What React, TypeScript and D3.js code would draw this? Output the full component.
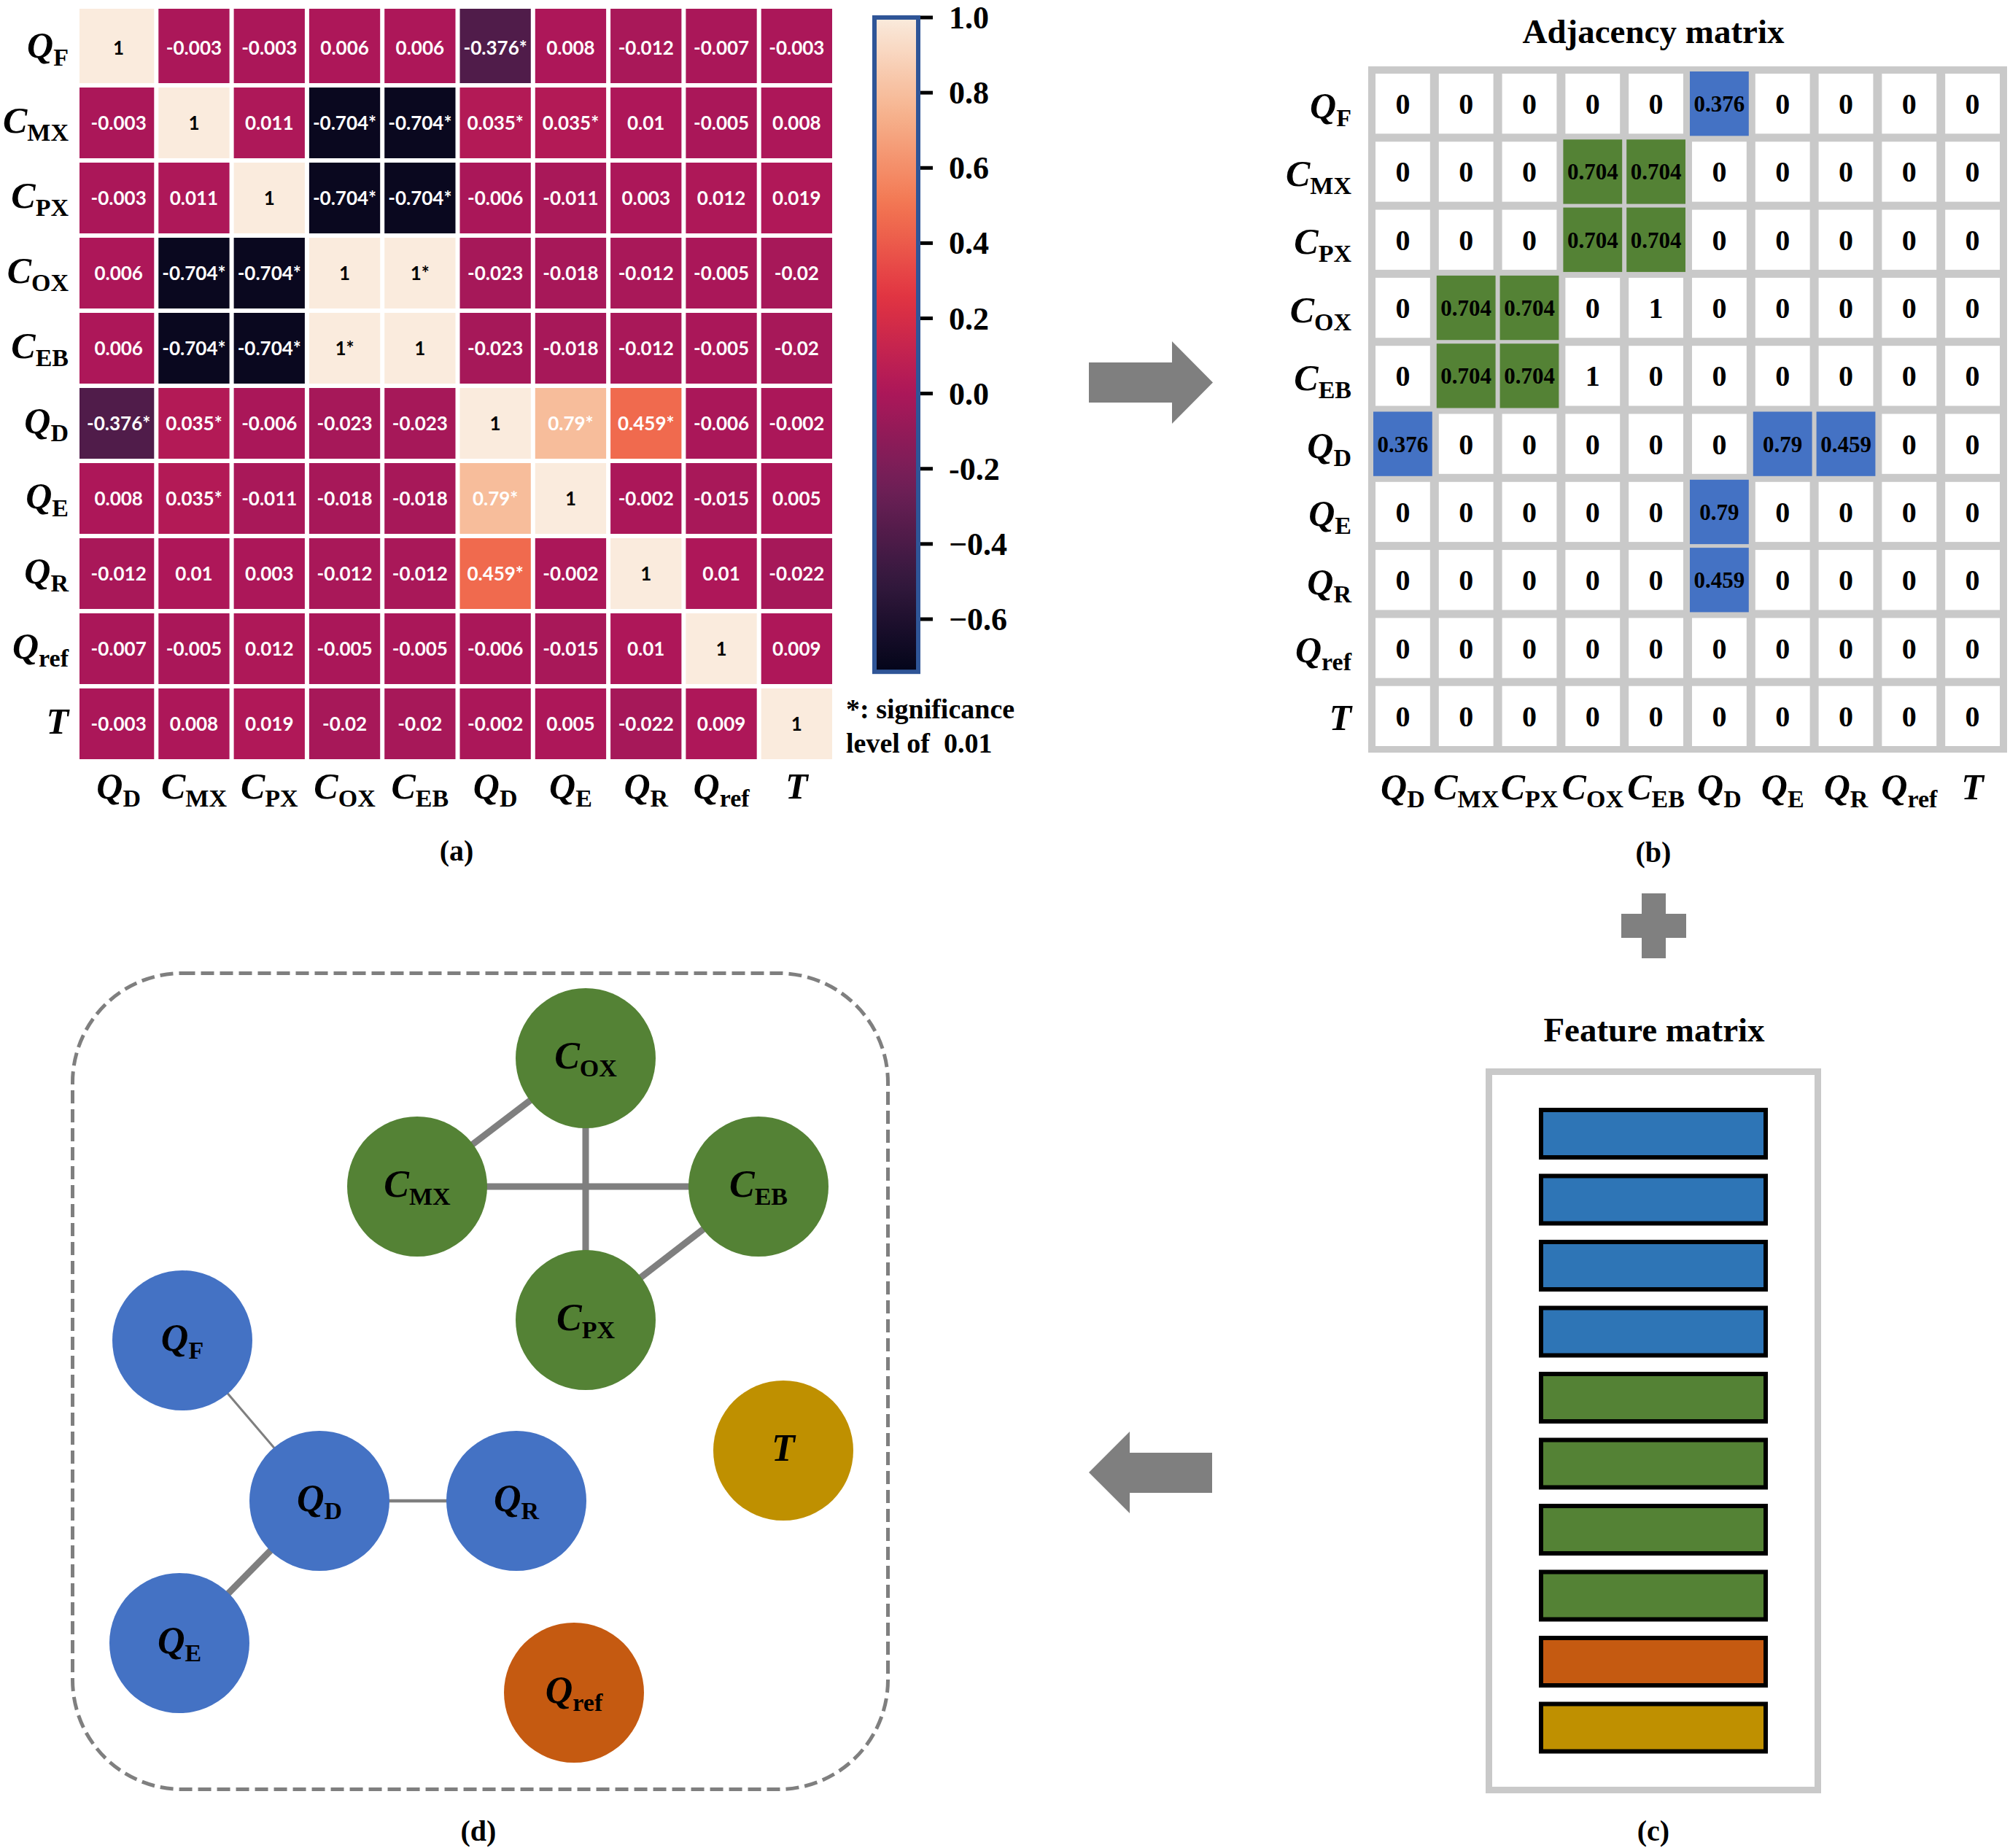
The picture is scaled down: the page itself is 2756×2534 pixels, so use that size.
import React from 'react';
import * as d3 from 'd3';

// ---------- DATA ----------
const rowLabels: [string, string][] = [
  ['Q', 'F'], ['C', 'MX'], ['C', 'PX'], ['C', 'OX'], ['C', 'EB'],
  ['Q', 'D'], ['Q', 'E'], ['Q', 'R'], ['Q', 'ref'], ['T', ''],
];
const colLabels: [string, string][] = [
  ['Q', 'D'], ['C', 'MX'], ['C', 'PX'], ['C', 'OX'], ['C', 'EB'],
  ['Q', 'D'], ['Q', 'E'], ['Q', 'R'], ['Q', 'ref'], ['T', ''],
];

const corrValues: number[][] = [
  [1, -0.003, -0.003, 0.006, 0.006, -0.376, 0.008, -0.012, -0.007, -0.003],
  [-0.003, 1, 0.011, -0.704, -0.704, 0.035, 0.035, 0.01, -0.005, 0.008],
  [-0.003, 0.011, 1, -0.704, -0.704, -0.006, -0.011, 0.003, 0.012, 0.019],
  [0.006, -0.704, -0.704, 1, 1, -0.023, -0.018, -0.012, -0.005, -0.02],
  [0.006, -0.704, -0.704, 1, 1, -0.023, -0.018, -0.012, -0.005, -0.02],
  [-0.376, 0.035, -0.006, -0.023, -0.023, 1, 0.79, 0.459, -0.006, -0.002],
  [0.008, 0.035, -0.011, -0.018, -0.018, 0.79, 1, -0.002, -0.015, 0.005],
  [-0.012, 0.01, 0.003, -0.012, -0.012, 0.459, -0.002, 1, 0.01, -0.022],
  [-0.007, -0.005, 0.012, -0.005, -0.005, -0.006, -0.015, 0.01, 1, 0.009],
  [-0.003, 0.008, 0.019, -0.02, -0.02, -0.002, 0.005, -0.022, 0.009, 1],
];
const corrSig: number[][] = [
  [0, 0, 0, 0, 0, 1, 0, 0, 0, 0],
  [0, 0, 0, 1, 1, 1, 1, 0, 0, 0],
  [0, 0, 0, 1, 1, 0, 0, 0, 0, 0],
  [0, 1, 1, 0, 1, 0, 0, 0, 0, 0],
  [0, 1, 1, 1, 0, 0, 0, 0, 0, 0],
  [1, 1, 0, 0, 0, 0, 1, 1, 0, 0],
  [0, 1, 0, 0, 0, 1, 0, 0, 0, 0],
  [0, 0, 0, 0, 0, 1, 0, 0, 0, 0],
  [0, 0, 0, 0, 0, 0, 0, 0, 0, 0],
  [0, 0, 0, 0, 0, 0, 0, 0, 0, 0],
];

const cbTicks = [1.0, 0.8, 0.6, 0.4, 0.2, 0.0, -0.2, -0.4, -0.6];
const cbTickLabels = ['1.0', '0.8', '0.6', '0.4', '0.2', '0.0', '-0.2', '\u22120.4', '\u22120.6'];
const cbMin = -0.74;
const cbMax = 1.0;

const adjValues: number[][] = [
  [0, 0, 0, 0, 0, 0.376, 0, 0, 0, 0],
  [0, 0, 0, 0.704, 0.704, 0, 0, 0, 0, 0],
  [0, 0, 0, 0.704, 0.704, 0, 0, 0, 0, 0],
  [0, 0.704, 0.704, 0, 1, 0, 0, 0, 0, 0],
  [0, 0.704, 0.704, 1, 0, 0, 0, 0, 0, 0],
  [0.376, 0, 0, 0, 0, 0, 0.79, 0.459, 0, 0],
  [0, 0, 0, 0, 0, 0.79, 0, 0, 0, 0],
  [0, 0, 0, 0, 0, 0.459, 0, 0, 0, 0],
  [0, 0, 0, 0, 0, 0, 0, 0, 0, 0],
  [0, 0, 0, 0, 0, 0, 0, 0, 0, 0],
];
// variable group of each row / node
const varGroups = ['flow', 'conc', 'conc', 'conc', 'conc', 'flow', 'flow', 'flow', 'ref', 'temp'];
// feature matrix rows (groups)
const featureGroups = ['flow', 'flow', 'flow', 'flow', 'conc', 'conc', 'conc', 'conc', 'ref', 'temp'];

// ---------- STYLE / LAYOUT ----------
const SERIF = "'Liberation Serif', 'Times New Roman', serif";
const SANS = "Lato, 'Open Sans', sans-serif";
const GRAY = '#7F7F7F';
const nodeColors: Record<string, string> = { flow: '#4472C4', conc: '#548235', ref: '#C55A11', temp: '#BF9000' };
const adjColors: Record<string, string> = { flow: '#4472C4', conc: '#548235' };
const featColors: Record<string, string> = { flow: '#2E75B6', conc: '#548235', ref: '#C55A11', temp: '#BF9000' };

// graph node layout (pixel positions in panel d), indexed like rowLabels
const nodeLayout: [number, number][] = [
  [250, 1838], [572, 1627], [803, 1810], [803, 1451], [1040, 1627],
  [438, 2058], [246, 2253], [708, 2058], [787, 2321], [1074, 1989],
];
const NODE_R = 96;

const rocketStops = ['#03051A', '#35193E', '#701F57', '#AD1759', '#E13342', '#F37651', '#F6B48F', '#FAEBDD'];
const rocket = d3.scaleLinear<string>()
  .domain(rocketStops.map((_, i) => i / (rocketStops.length - 1)))
  .range(rocketStops)
  .interpolate(d3.interpolateRgb)
  .clamp(true);
const colorOf = (v: number) => rocket((v - cbMin) / (cbMax - cbMin));

function VarLabel(props: {
  main: string; sub: string; x: number; y: number; anchor: string;
  size: number; subSize: number; subDy: number;
}) {
  const { main, sub, x, y, anchor, size, subSize, subDy } = props;
  return (
    <text x={x} y={y} textAnchor={anchor} fontFamily={SERIF} fontWeight="bold" fontSize={size} fill="#000">
      <tspan fontStyle="italic">{main}</tspan>
      {sub ? <tspan fontSize={subSize} dy={subDy}>{sub}</tspan> : null}
    </text>
  );
}

export default function App() {
  const idx = d3.range(10);

  // Panel (a) heatmap scales
  const hx = d3.scaleBand<number>().domain(idx).range([111, 1144]);
  const hy = d3.scaleBand<number>().domain(idx).range([14, 1044]);
  const hp = hx.bandwidth();
  const hpy = hy.bandwidth();

  // colorbar scale
  const cbY = d3.scaleLinear().domain([1, -0.6]).range([24, 849]);
  const cbTop = cbY(cbMax);
  const cbBottom = cbY(cbMin);
  const gradStops = d3.range(0, 41).map(i => {
    const v = cbMax - (i / 40) * (cbMax - cbMin);
    return { off: i / 40, color: colorOf(v) };
  });

  // Panel (b) adjacency scales
  const ax = d3.scaleBand<number>().domain(idx).range([1880, 2748]);
  const ay = d3.scaleBand<number>().domain(idx).range([95, 1028]);
  const aw = ax.bandwidth();
  const ah = ay.bandwidth();

  // graph edges from adjacency (0 < w < 1)
  const edges: { i: number; j: number; w: number }[] = [];
  adjValues.forEach((row, i) => row.forEach((w, j) => {
    if (j > i && w > 0 && w < 1) edges.push({ i, j, w });
  }));
  const edgeWidth = d3.scaleLinear().domain([0.376, 0.459, 0.704]).range([3, 4.5, 9]).clamp(true);

  // feature bars
  const fy = d3.scaleBand<number>().domain(idx).range([1522, 1522 + 905]);

  return (
    <svg width={2756} height={2534} viewBox="0 0 2756 2534"
      style={{ position: 'absolute', left: 0, top: 0, background: '#fff' }}>
      <defs>
        <linearGradient id="cbgrad" x1="0" y1="0" x2="0" y2="1">
          {gradStops.map((s, k) => <stop key={k} offset={s.off} stopColor={s.color} />)}
        </linearGradient>
      </defs>
      <rect x={0} y={0} width={2756} height={2534} fill="#fff" />

      {/* ---------- Panel (a) ---------- */}
      <g>
        {corrValues.map((row, i) => row.map((v, j) => {
          const x0 = (hx(j) as number) + 3 - (j === 0 ? 5 : 0);
          const y0 = (hy(i) as number) + 3 - (i === 0 ? 5 : 0);
          const w = hp - 6 + (j === 0 ? 5 : 0);
          const h = hpy - 6 + (i === 0 ? 5 : 0);
          const cx = (hx(j) as number) + hp / 2;
          const cy = (hy(i) as number) + hpy / 2;
          const label = String(v) + (corrSig[i][j] ? '*' : '');
          return (
            <g key={`c${i}-${j}`}>
              <rect x={x0} y={y0} width={w} height={h} fill={colorOf(v)} />
              <text x={cx} y={cy + 9} textAnchor="middle" fontFamily={SANS} fontWeight="bold"
                fontSize={26} fill={v >= 0.95 ? '#000' : '#fff'}>{label}</text>
            </g>
          );
        }))}
        {rowLabels.map((l, i) => (
          <VarLabel key={`ra${i}`} main={l[0]} sub={l[1]} x={94} y={(hy(i) as number) + hpy / 2 + 13}
            anchor="end" size={50} subSize={34} subDy={11} />
        ))}
        {colLabels.map((l, j) => (
          <VarLabel key={`ca${j}`} main={l[0]} sub={l[1]} x={(hx(j) as number) + hp / 2} y={1095}
            anchor="middle" size={50} subSize={34} subDy={11} />
        ))}
        {/* colorbar */}
        <rect x={1199} y={cbTop} width={60} height={cbBottom - cbTop} fill="url(#cbgrad)"
          stroke="#2F5597" strokeWidth={6} />
        {cbTicks.map((t, k) => (
          <g key={`cb${k}`}>
            <line x1={1262} x2={1279} y1={cbY(t)} y2={cbY(t)} stroke="#000" strokeWidth={5} />
            <text x={1301} y={cbY(t) + 15} fontFamily={SERIF} fontWeight="bold" fontSize={44}>{cbTickLabels[k]}</text>
          </g>
        ))}
        <text x={1160} y={985} fontFamily={SERIF} fontWeight="bold" fontSize={38}>*: significance</text>
        <text x={1160} y={1032} fontFamily={SERIF} fontWeight="bold" fontSize={38} style={{ whiteSpace: 'pre' }}>{'level of  0.01'}</text>
        <text x={626} y={1180} textAnchor="middle" fontFamily={SERIF} fontWeight="bold" fontSize={40}>(a)</text>
      </g>

      {/* arrows */}
      <polygon points="1493,497 1607,497 1607,468 1663,524.5 1607,581 1607,552 1493,552" fill={GRAY} />
      <polygon points="1662,1992 1549,1992 1549,1963 1493,2019 1549,2075 1549,2047 1662,2047" fill={GRAY} />

      {/* ---------- Panel (b) ---------- */}
      <g>
        <text x={2267} y={59} textAnchor="middle" fontFamily={SERIF} fontWeight="bold" fontSize={47}>Adjacency matrix</text>
        <rect x={1876} y={91} width={876} height={941} fill="#C9C9C9" />
        {adjValues.map((row, i) => row.map((v, j) => {
          const x0 = (ax(j) as number) + 6;
          const y0 = (ay(i) as number) + 6;
          const w = aw - 12;
          const h = ah - 11;
          const colored = v > 0 && v < 1;
          const cx = x0 + w / 2;
          const cy = y0 + h / 2;
          return (
            <g key={`a${i}-${j}`}>
              {colored ? (
                <rect x={x0 - 3} y={y0 - 3} width={w + 6} height={h + 6} fill={adjColors[varGroups[i]]} />
              ) : (
                <rect x={x0} y={y0} width={w} height={h} fill="#fff" />
              )}
              <text x={cx} y={cy + (colored ? 11 : 14)} textAnchor="middle" fontFamily={SERIF} fontWeight="bold"
                fontSize={colored ? 31 : 40} fill="#000">{String(v)}</text>
            </g>
          );
        }))}
        {rowLabels.map((l, i) => (
          <VarLabel key={`rb${i}`} main={l[0]} sub={l[1]} x={1853} y={(ay(i) as number) + ah / 2 + 20}
            anchor="end" size={50} subSize={34} subDy={11} />
        ))}
        {colLabels.map((l, j) => (
          <VarLabel key={`cb${j}`} main={l[0]} sub={l[1]} x={(ax(j) as number) + 6 + (aw - 12) / 2} y={1096}
            anchor="middle" size={50} subSize={34} subDy={11} />
        ))}
        <text x={2267} y={1182} textAnchor="middle" fontFamily={SERIF} fontWeight="bold" fontSize={40}>(b)</text>
      </g>

      {/* plus */}
      <rect x={2251} y={1225} width={33} height={89} fill="#808080" />
      <rect x={2223} y={1253} width={89} height={33} fill="#808080" />

      {/* ---------- Panel (c) ---------- */}
      <g>
        <text x={2268} y={1428} textAnchor="middle" fontFamily={SERIF} fontWeight="bold" fontSize={47}>Feature matrix</text>
        <rect x={2041.5} y={1469.5} width={451} height={985} fill="#fff" stroke="#C9C9C9" strokeWidth={9} />
        {featureGroups.map((g, i) => (
          <rect key={`f${i}`} x={2113} y={fy(i) as number} width={308} height={65}
            fill={featColors[g]} stroke="#000" strokeWidth={6} />
        ))}
        <text x={2267} y={2524} textAnchor="middle" fontFamily={SERIF} fontWeight="bold" fontSize={40}>(c)</text>
      </g>

      {/* ---------- Panel (d) ---------- */}
      <g>
        <rect x={99.5} y={1334.5} width={1118} height={1119} rx={150} ry={150} fill="none"
          stroke={GRAY} strokeWidth={5} strokeDasharray="18 8" />
        {edges.map((e, k) => (
          <line key={`e${k}`} x1={nodeLayout[e.i][0]} y1={nodeLayout[e.i][1]}
            x2={nodeLayout[e.j][0]} y2={nodeLayout[e.j][1]} stroke={GRAY} strokeWidth={edgeWidth(e.w)} />
        ))}
        {nodeLayout.map((p, i) => (
          <g key={`n${i}`}>
            <circle cx={p[0]} cy={p[1]} r={NODE_R} fill={nodeColors[varGroups[i]]} />
            <VarLabel main={rowLabels[i][0]} sub={rowLabels[i][1]} x={p[0]} y={p[1] + 14}
              anchor="middle" size={52} subSize={34} subDy={11} />
          </g>
        ))}
        <text x={656} y={2524} textAnchor="middle" fontFamily={SERIF} fontWeight="bold" fontSize={40}>(d)</text>
      </g>
    </svg>
  );
}
